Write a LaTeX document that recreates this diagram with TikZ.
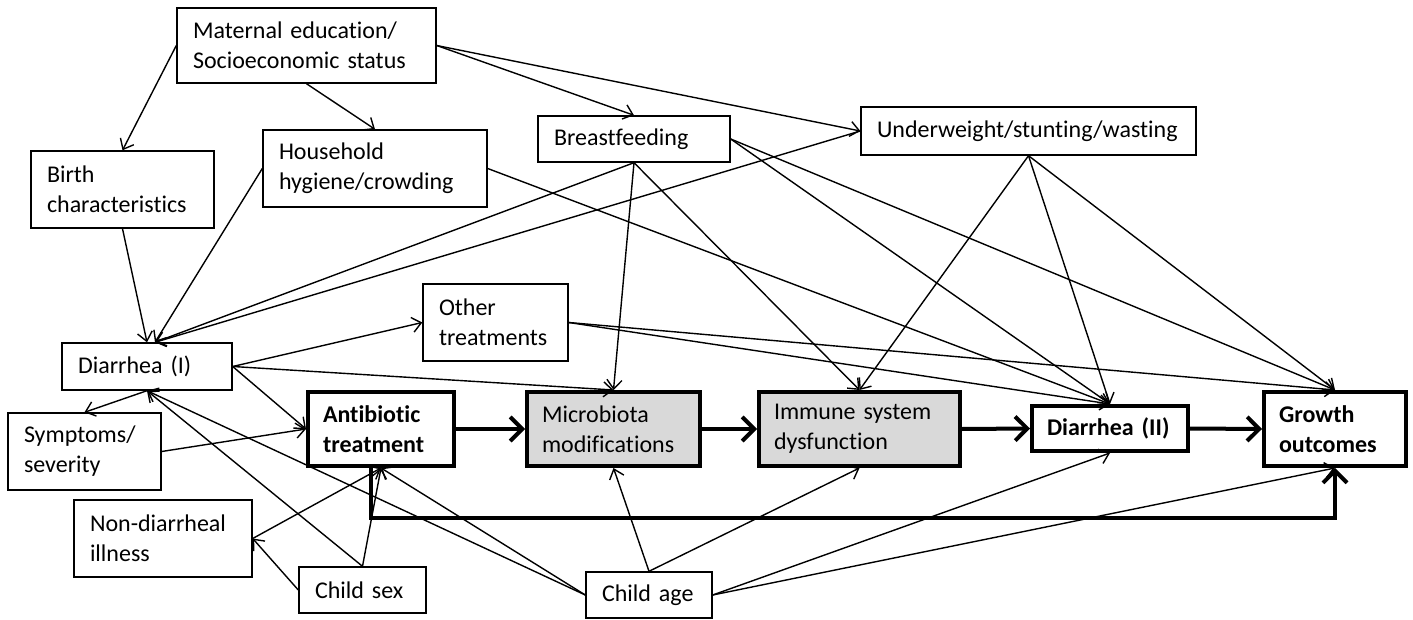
\documentclass[tikz,border=0pt]{standalone}
\usepackage{fontspec}
\setmainfont{Carlito}[Ligatures=NoCommon, WordSpace=0.8]
\usetikzlibrary{arrows.meta,calc}
\begin{document}
\begin{tikzpicture}[x=1pt,y=-1pt,
  box/.style={draw, line width=1.4pt, inner xsep=16pt, inner ysep=0pt, align=left,
    font=\fontsize{24}{30}\selectfont},
  tbox/.style={box, line width=4pt, inner xsep=15pt, font=\fontsize{24}{30}\selectfont\bfseries},
  gbox/.style={box, line width=4pt, inner xsep=15pt, fill=black!15},
  arr/.style={line width=1.4pt, -{Straight Barb[length=9pt,width=15pt]}},
  thk/.style={line width=4pt, -{Straight Barb[length=12pt,width=24pt]}}
]
\useasboundingbox (0,0) rectangle (1413,620);
% nodes
\node[box, text width=227pt, minimum height=75pt] (mat) at (306.5,45.5) {Maternal education/\\Socioeconomic status};
\node[box, text width=151pt, minimum height=77pt] (birth) at (122.5,189.5) {Birth\\characteristics};
\node[box, text width=192pt, minimum height=77pt] (house) at (375,168.5) {Household\\hygiene/crowding};
\node[box, text width=160pt, minimum height=46pt] (breast) at (634,139) {Breastfeeding};
\node[box, text width=303pt, minimum height=48pt] (under) at (1028.5,131) {Underweight/stunting/wasting};
\node[box, text width=113pt, minimum height=77pt] (other) at (495.5,322.5) {Other\\treatments};
\node[box, text width=138pt, minimum height=47pt] (d1) at (147,366.5) {Diarrhea (I)};
\node[box, text width=121pt, minimum height=77pt] (symp) at (84.5,451.5) {Symptoms/\\severity};
\node[box, text width=146pt, minimum height=77pt] (nondi) at (163,538.5) {Non-diarrheal\\illness};
\node[box, text width=95pt, minimum height=46pt] (sex) at (362.5,590) {Child sex};
\node[box, text width=94pt, minimum height=46pt] (age) at (649,595) {Child age};
\node[tbox, text width=116pt, minimum height=74pt] (anti) at (381,429) {Antibiotic\\treatment};
\node[gbox, text width=143pt, minimum height=74pt] (micro) at (613.5,429) {Microbiota\\modifications};
\node[gbox, text width=171pt, minimum height=74pt] (immune) at (859.5,429) {Immune system\\dysfunction};
\node[tbox, text width=126pt, minimum height=45pt] (d2) at (1110,428.5) {Diarrhea (II)};
\node[tbox, text width=112pt, minimum height=74pt] (growth) at (1335,429) {Growth\\outcomes};
% thin arrows
\draw[arr] (mat.west) -- (birth.north);
\draw[arr] (mat.south) -- (house.north);
\draw[arr] (mat.east) -- (breast.north);
\draw[arr] (mat.east) -- (under.west);
\draw[arr] (birth.south) -- (d1.north);
\draw[arr] (house.west) -- ($(d1.north)+(8,0)$);
\draw[arr] (breast.south) -- ($(d1.north)+(8,0)$);
\draw[arr] (under.west) -- ($(d1.north)+(8,0)$);
\draw[arr] (house.east) -- (d2.north);
\draw[arr] (breast.south) -- (micro.north);
\draw[arr] (breast.south) -- (immune.north);
\draw[arr] (breast.east) -- (d2.north);
\draw[arr] (breast.east) -- (growth.north);
\draw[arr] (under.south) -- (immune.north);
\draw[arr] (under.south) -- (d2.north);
\draw[arr] (under.south) -- (growth.north);
\draw[arr] (d1.east) -- (other.west);
\draw[arr] (d1.east) -- (micro.north);
\draw[arr] (d1.east) -- (anti.west);
\draw[arr] (d1.south) -- (symp.north);
\draw[arr] (symp.east) -- (anti.west);
\draw[arr] (other.east) -- (d2.north);
\draw[arr] (other.east) -- (growth.north);
\draw[arr] (sex.north) -- (d1.south);
\draw[arr] (sex.north) -- (anti.south);
\draw[arr] (sex.west) -- (nondi.east);
\draw[arr] (nondi.east) -- (anti.south);
\draw[arr] (age.west) -- (d1.south);
\draw[arr] (age.west) -- (anti.south);
\draw[arr] (age.north) -- (micro.south);
\draw[arr] (age.north) -- (immune.south);
\draw[arr] (age.east) -- (d2.south);
\draw[arr] (age.east) -- (growth.south);
% thick arrows
\draw[thk] (anti.east) -- (micro.west);
\draw[thk] (micro.east) -- (immune.west);
\draw[thk] (immune.east) -- (d2.west);
\draw[thk] (d2.east) -- (growth.west);
\draw[thk] ($(anti.south)+(-10,0)$) |- ($(growth.south)+(0,50)$) -- (growth.south);
\end{tikzpicture}
\end{document}
